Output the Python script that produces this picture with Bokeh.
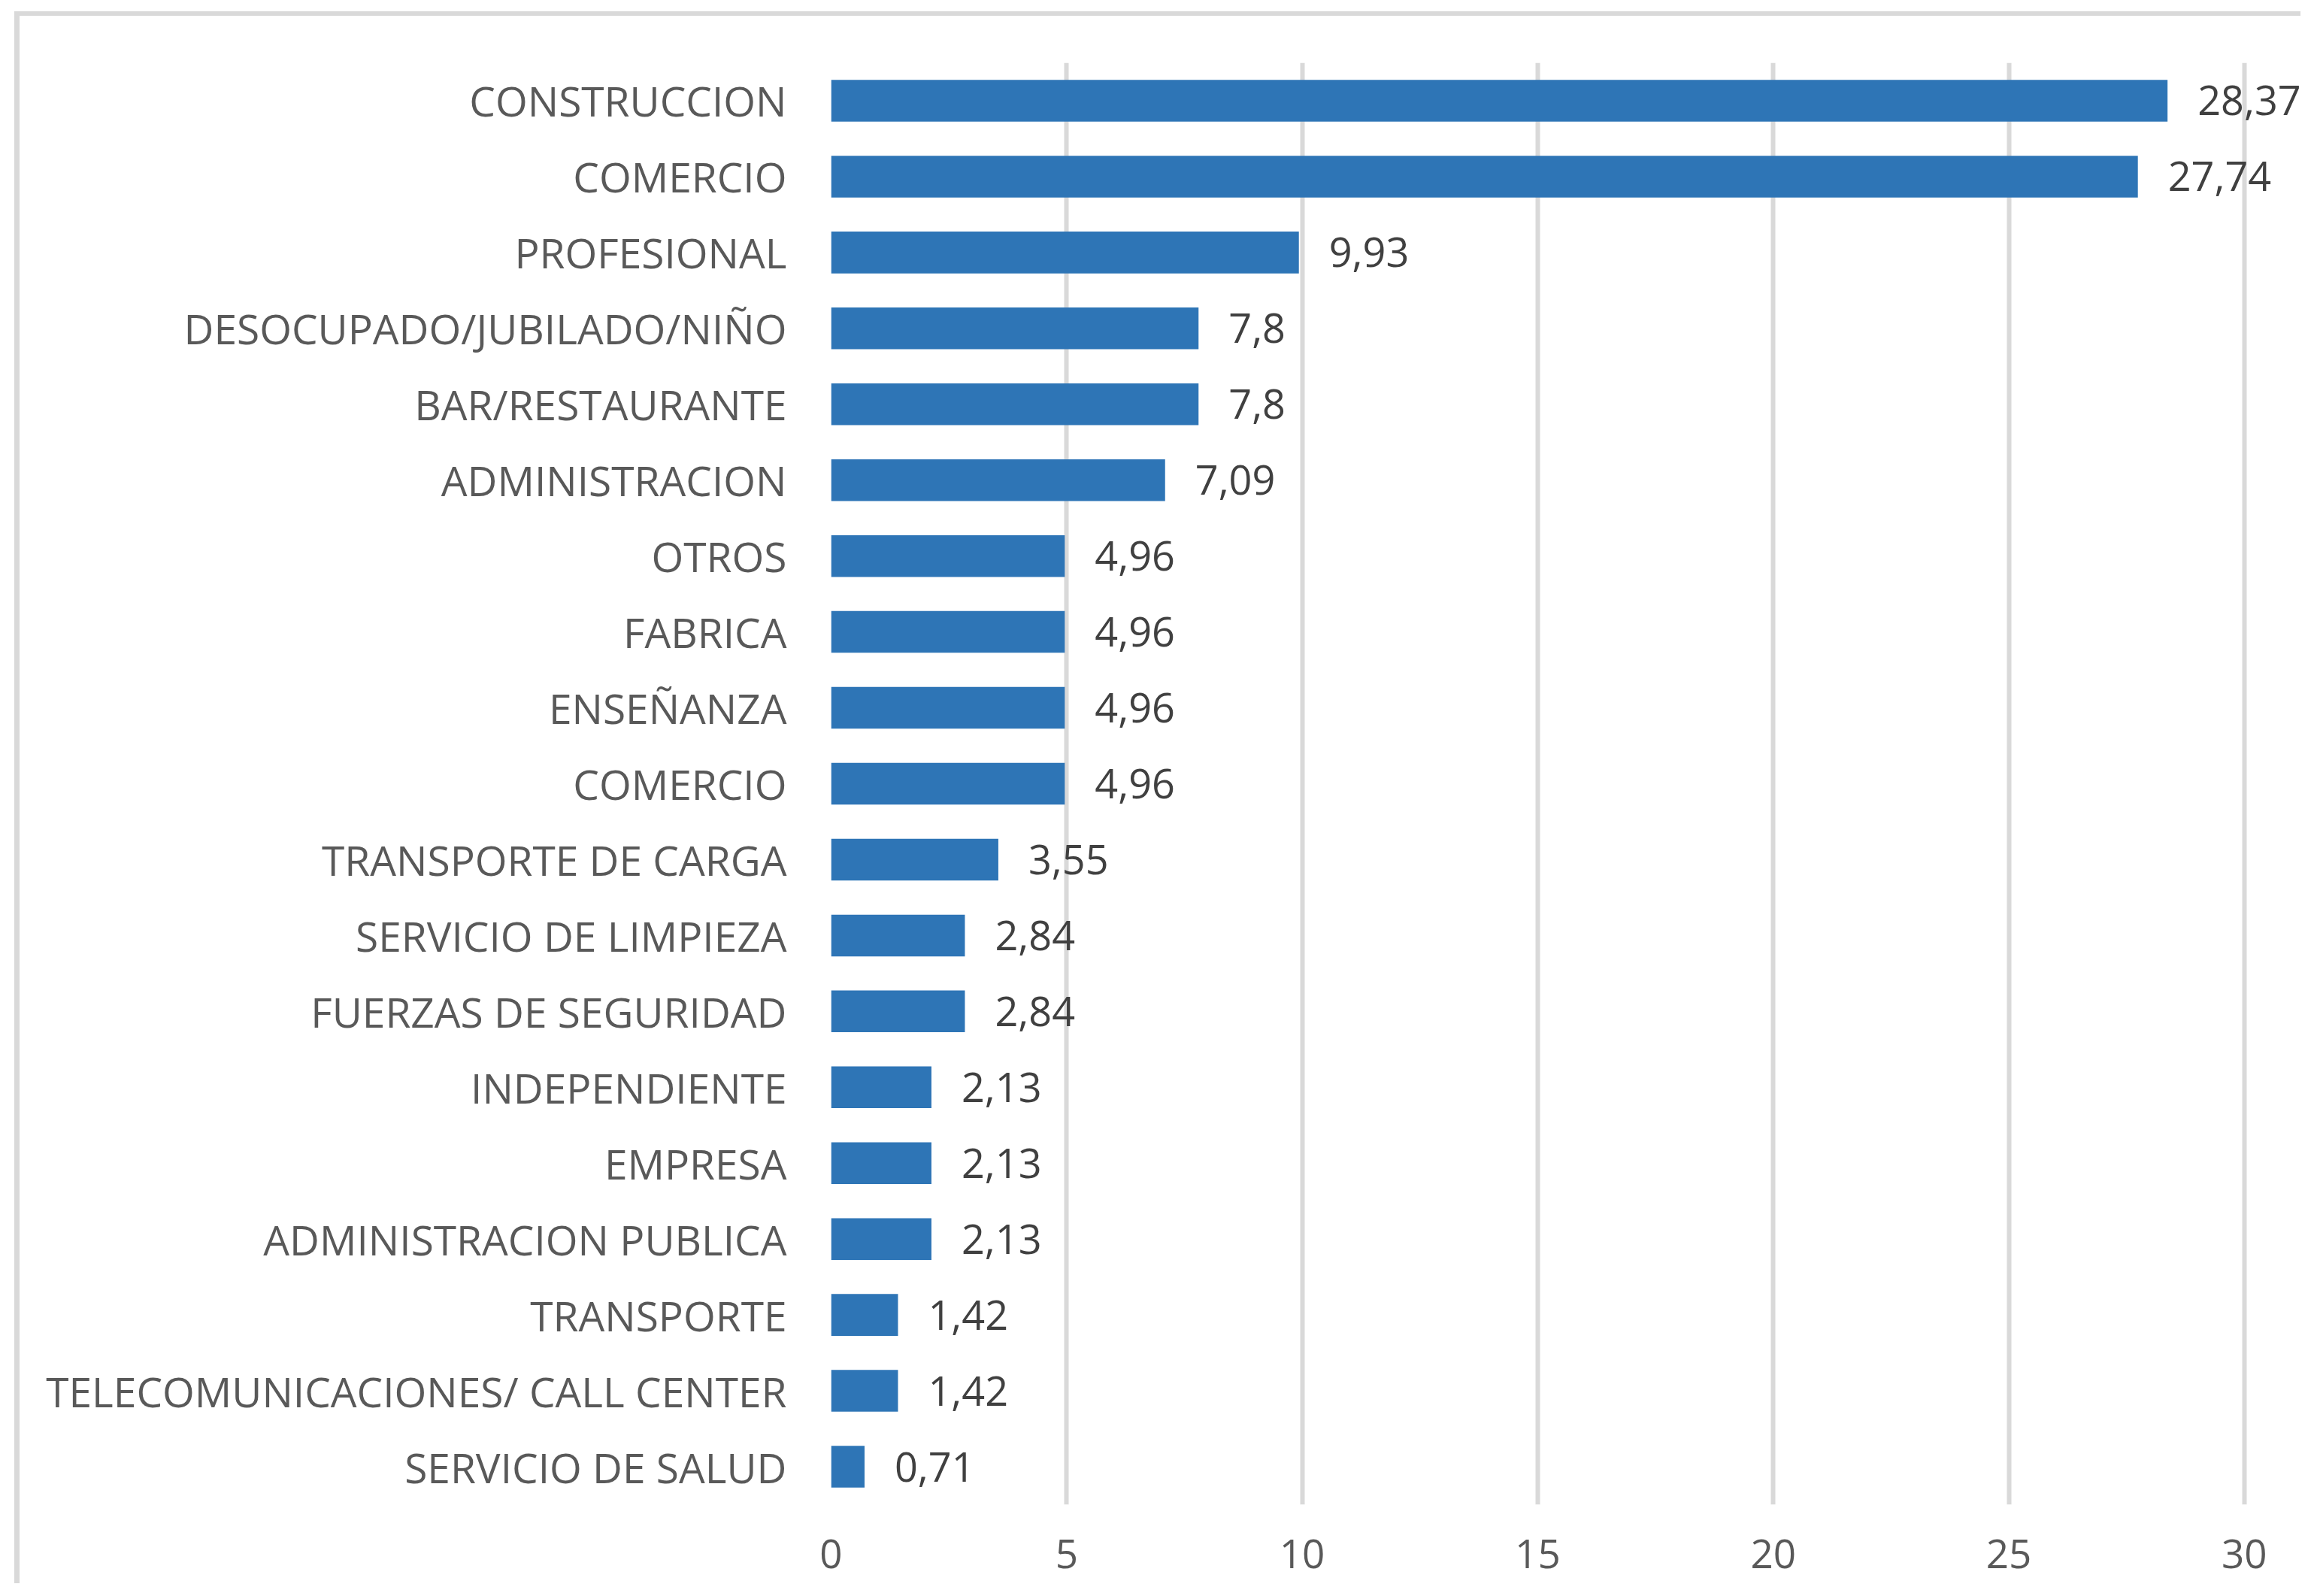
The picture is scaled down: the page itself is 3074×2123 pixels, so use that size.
from bokeh.plotting import figure
from bokeh.models import Range1d, FixedTicker, ColumnDataSource
from bokeh.core.properties import value
from bokeh.embed import file_html
from bokeh.resources import INLINE

categories = [
    "CONSTRUCCION", "COMERCIO", "PROFESIONAL", "DESOCUPADO/JUBILADO/NIÑO",
    "BAR/RESTAURANTE", "ADMINISTRACION", "OTROS", "FABRICA", "ENSEÑANZA",
    "COMERCIO", "TRANSPORTE DE CARGA", "SERVICIO DE LIMPIEZA",
    "FUERZAS DE SEGURIDAD", "INDEPENDIENTE", "EMPRESA",
    "ADMINISTRACION PUBLICA", "TRANSPORTE", "TELECOMUNICACIONES/ CALL CENTER",
    "SERVICIO DE SALUD",
]
values = [28.37, 27.74, 9.93, 7.8, 7.8, 7.09, 4.96, 4.96, 4.96, 4.96,
          3.55, 2.84, 2.84, 2.13, 2.13, 2.13, 1.42, 1.42, 0.71]
x_ticks = [0, 5, 10, 15, 20, 25, 30]

positions = list(range(len(categories)))
labels = [str(v).replace(".", ",") for v in values]

src = ColumnDataSource(dict(y=positions, v=values, lab=labels))

FONT = "Open Sans"
W, H = 3060, 2106

p = figure(
    width=W, height=H,
    x_range=Range1d(0, 31.2),
    y_range=Range1d(len(categories) - 0.5, -0.5),
    output_backend="svg", toolbar_location=None,
    min_border_left=1105, min_border_right=0,
    min_border_top=83, min_border_bottom=105,
)
p.outline_line_color = None
p.background_fill_color = "white"
p.border_fill_color = None
# light-gray chart-area frame (only its top and left edges are in view)
p.styles = {
    "background": ("linear-gradient(#d9d9d9, #d9d9d9) 19px 15px / 7px 100% no-repeat, "
                   "linear-gradient(#d9d9d9, #d9d9d9) 19px 15px / 100% 6px no-repeat, "
                   "white"),
}

p.hbar(y="y", right="v", left=0, height=0.55, source=src,
       fill_color="#2E75B6", line_color=None)

p.text(x="v", y="y", text="lab", source=src, x_offset=40,
       text_align="left", text_baseline="middle",
       text_font=value(FONT), text_font_size="54px", text_color="#404040")

# x axis
p.xaxis.ticker = FixedTicker(ticks=x_ticks)
p.xaxis.axis_line_color = None
p.xaxis.major_tick_line_color = None
p.xaxis.minor_tick_line_color = None
p.xaxis.major_label_text_font = FONT
p.xaxis.major_label_text_font_size = "53px"
p.xaxis.major_label_text_color = "#595959"
p.xaxis.major_label_standoff = 40

# y axis
p.yaxis.ticker = FixedTicker(ticks=positions)
p.yaxis.major_label_overrides = {i: c for i, c in zip(positions, categories)}
p.yaxis.axis_line_color = None
p.yaxis.major_tick_line_color = None
p.yaxis.minor_tick_line_color = None
p.yaxis.major_label_text_font = FONT
p.yaxis.major_label_text_font_size = "55px"
p.yaxis.major_label_text_color = "#595959"
p.yaxis.major_label_standoff = 53

p.xgrid.ticker = FixedTicker(ticks=x_ticks)
p.xgrid.grid_line_color = "#d9d9d9"
p.xgrid.grid_line_width = 6
p.ygrid.grid_line_color = None

open("out.html", "w").write(file_html(p, INLINE))
